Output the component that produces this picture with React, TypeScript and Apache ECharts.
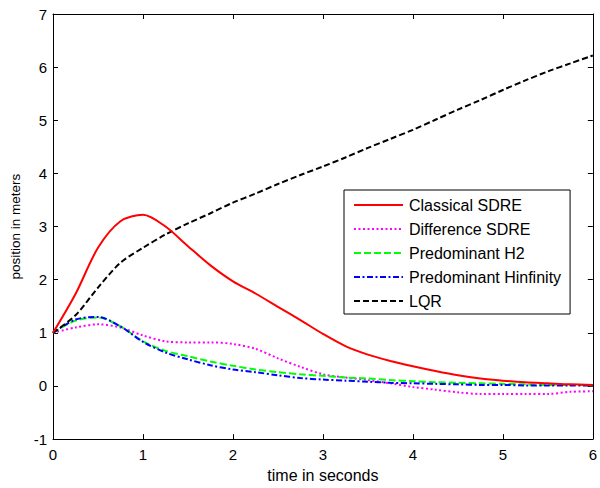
import React, { useEffect, useRef } from "react";
import * as echarts from "echarts";

const time = [0, 0.25, 0.5, 0.75, 1, 1.25, 1.5, 1.75, 2, 2.25, 2.5, 2.75, 3, 3.25, 3.5, 3.75, 4, 4.25, 4.5, 4.75, 5, 5.25, 5.5, 5.75, 6];
const classicalSDRE = [1, 1.73, 2.6, 3.1, 3.22, 3.0, 2.63, 2.27, 1.97, 1.74, 1.49, 1.24, 0.98, 0.75, 0.59, 0.47, 0.37, 0.28, 0.2, 0.14, 0.1, 0.07, 0.05, 0.03, 0.02];
const differenceSDRE = [1, 1.1, 1.16, 1.1, 0.95, 0.84, 0.82, 0.82, 0.79, 0.7, 0.52, 0.36, 0.22, 0.16, 0.11, 0.05, -0.02, -0.07, -0.12, -0.15, -0.15, -0.15, -0.15, -0.11, -0.1];
const predominantH2 = [1, 1.23, 1.29, 1.12, 0.84, 0.66, 0.56, 0.46, 0.38, 0.31, 0.26, 0.22, 0.19, 0.16, 0.14, 0.11, 0.09, 0.07, 0.06, 0.05, 0.04, 0.03, 0.02, 0.02, 0.01];
const predominantHinf = [1, 1.25, 1.3, 1.12, 0.83, 0.63, 0.5, 0.39, 0.31, 0.26, 0.2, 0.15, 0.12, 0.1, 0.08, 0.06, 0.05, 0.04, 0.03, 0.02, 0.02, 0.01, 0.01, 0.01, 0.01];
const lqr = [1, 1.33, 1.85, 2.32, 2.6, 2.85, 3.06, 3.25, 3.45, 3.62, 3.8, 3.97, 4.13, 4.3, 4.48, 4.65, 4.82, 5.01, 5.2, 5.38, 5.57, 5.75, 5.92, 6.07, 6.22];

const seriesNames = ["Classical SDRE", "Difference SDRE", "Predominant H2", "Predominant Hinfinity", "LQR"];
const seriesValues = [classicalSDRE, differenceSDRE, predominantH2, predominantHinf, lqr];
const seriesColors = ["#ff0000", "#ff00ff", "#00ff00", "#0000ff", "#000000"];
const seriesDash: any[] = ["solid", [2, 2.5], [7, 3], [6, 2.5, 2, 2.5], [6, 3]];

const FONT = "Liberation Sans, Arial, Helvetica, sans-serif";

export default function App() {
  const ref = useRef<HTMLDivElement>(null);
  useEffect(() => {
    if (!ref.current) return;
    const chart = echarts.init(ref.current, undefined, { renderer: "svg" });
    const axisCommon = {
      axisLine: { show: true, onZero: false, lineStyle: { color: "#000", width: 1 } },
      axisTick: { show: true, inside: true, length: 5, lineStyle: { color: "#000" } },
      splitLine: { show: false },
    };
    chart.setOption({
      animation: false,
      backgroundColor: "#fff",
      textStyle: { fontFamily: FONT },
      grid: { left: 53, right: 4, top: 14, bottom: 46 },
      legend: {
        orient: "vertical",
        left: 344,
        top: 190,
        itemWidth: 49,
        itemHeight: 14,
        itemGap: 8,
        padding: [7, 9, 5, 9],
        borderColor: "#000",
        borderWidth: 1,
        backgroundColor: "#fff",
        itemStyle: { opacity: 0 },
        textStyle: { fontFamily: FONT, fontSize: 16, lineHeight: 16, color: "#000", padding: [0, 0, 0, 1] },
        data: seriesNames,
      },
      xAxis: [
        {
          type: "value",
          min: 0,
          max: 6,
          interval: 1,
          name: "time in seconds",
          nameLocation: "middle",
          nameGap: 27,
          nameTextStyle: { fontFamily: FONT, fontSize: 16, color: "#000" },
          axisLabel: { fontFamily: FONT, fontSize: 15, color: "#000", margin: 8 },
          ...axisCommon,
        },
        {
          type: "value",
          position: "top",
          min: 0,
          max: 6,
          interval: 1,
          axisLabel: { show: false },
          ...axisCommon,
        },
      ],
      yAxis: [
        {
          type: "value",
          min: -1,
          max: 7,
          interval: 1,
          name: "position in meters",
          nameLocation: "middle",
          nameGap: 28,
          nameTextStyle: { fontFamily: FONT, fontSize: 13.5, color: "#000" },
          axisLabel: { fontFamily: FONT, fontSize: 15, color: "#000", margin: 6 },
          ...axisCommon,
        },
        {
          type: "value",
          position: "right",
          min: -1,
          max: 7,
          interval: 1,
          axisLabel: { show: false },
          ...axisCommon,
        },
      ],
      series: seriesNames.map((name, i) => ({
        name,
        type: "line",
        smooth: 0.3,
        symbol: "none",
        showSymbol: false,
        color: seriesColors[i],
        lineStyle: { color: seriesColors[i], width: 2, type: seriesDash[i] },
        data: time.map((t, j) => [t, seriesValues[i][j]]),
        z: i === 0 ? 3 : 2,
      })),
    });
    return () => chart.dispose();
  }, []);
  return <div ref={ref} style={{ position: "fixed", left: 0, top: 0, width: 600, height: 488 }} />;
}
